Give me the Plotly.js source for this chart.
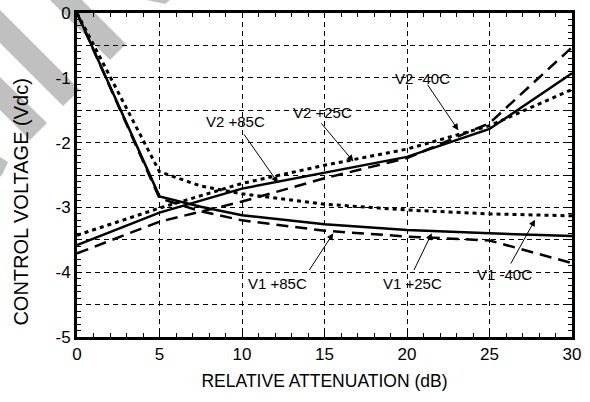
<!DOCTYPE html>
<html>
<head>
<meta charset="utf-8">
<script src="https://cdn.plot.ly/plotly-3.0.1.min.js"></script>
<style>html,body{margin:0;padding:0;background:#fff;}#chart{width:590px;height:402px;}</style>
</head>
<body>
<div id="chart"></div>
<script>
// ---- data ----
var attenV1 = [0, 5, 7.5, 10, 15, 20, 25, 30];
var v1Solid  = [0, -2.83, -2.99, -3.12, -3.26, -3.35, -3.40, -3.44];
var v1Dashed = [0, -2.86, -3.06, -3.20, -3.36, -3.45, -3.51, -3.86];
var v1Dotted = [0, -2.45, -2.67, -2.79, -2.95, -3.04, -3.10, -3.13];

var attenV2 = [0, 5, 10, 15, 20, 25, 30];
var v2Solid  = [-3.58, -3.08, -2.71, -2.46, -2.22, -1.79, -0.93];
var v2Dashed = [-3.71, -3.22, -2.91, -2.55, -2.24, -1.70, -0.53];
var v2Dotted = [-3.43, -3.01, -2.63, -2.35, -2.10, -1.74, -1.18];

// label texts and their positions (data units)
var labelTexts = ['V2 +85C', 'V2 +25C', 'V2 -40C', 'V1 +85C', 'V1 +25C', 'V1 -40C'];
var labelX = [9.58, 14.9, 20.94, 12.18, 20.33, 25.9];
var labelY = [-1.67, -1.53, -1.01, -4.17, -4.17, -4.04];
var arrowTailX = [10.06, 14.73, 21.19, 14.02, 20.38, 26.24];
var arrowTailY = [-1.85, -1.68, -1.085, -3.99, -3.99, -3.89];
var arrowTipX = [12.18, 16.75, 23.11, 15.53, 21.5, 27.76];
var arrowTipY = [-2.62, -2.29, -1.81, -3.40, -3.40, -3.19];

var xTickVals = [0, 5, 10, 15, 20, 25, 30];
var yGridVals = [0, -0.5, -1, -1.5, -2, -2.5, -3, -3.5, -4, -4.5, -5];
var yTickText = ['0', '', '-1', '', '-2', '', '-3', '', '-4', '', '-5'];

// ---- build ----
var FONT = 'Liberation Sans, Arial, Helvetica, sans-serif';
function line(x, y, dash, w) {
  return {x: x, y: y, type: 'scatter', mode: 'lines', showlegend: false, hoverinfo: 'skip',
          line: {color: '#000', width: w, dash: dash}};
}
var traces = [
  line(attenV1, v1Solid, 'solid', 2.5),
  line(attenV1, v1Dashed, '12px,7px', 2.5),
  line(attenV1, v1Dotted, '4px,4px', 3),
  line(attenV2, v2Solid, 'solid', 2.5),
  line(attenV2, v2Dashed, '12px,7px', 2.5),
  line(attenV2, v2Dotted, '4px,4px', 3)
];

var annotations = [];
for (var i = 0; i < labelTexts.length; i++) {
  annotations.push({x: arrowTipX[i], y: arrowTipY[i], xref: 'x', yref: 'y',
    ax: arrowTailX[i], ay: arrowTailY[i], axref: 'x', ayref: 'y', text: '',
    showarrow: true, arrowhead: 2, arrowsize: 1.3, arrowwidth: 1, arrowcolor: '#000', standoff: 0, startstandoff: 0});
  annotations.push({x: labelX[i], y: labelY[i], xref: 'x', yref: 'y', text: labelTexts[i],
    showarrow: false, bgcolor: 'rgba(0,0,0,0)', font: {family: FONT, size: 15, color: '#000'}});
}
annotations.push({xref: 'paper', yref: 'paper', x: -0.115, y: 0.415, xanchor: 'center', yanchor: 'middle',
  text: 'CONTROL VOLTAGE (Vdc)', textangle: -90, showarrow: false, font: {family: FONT, size: 20, color: '#000'}});

// decorative diagonal watermark stripes (pixel geometry -> paper)
var L = 77, R = 572, T = 13, B = 337;
function px(x) { return ((x - L) / (R - L)).toFixed(4); }
function py(y) { return ((B - y) / (B - T)).toFixed(4); }
function poly(pts) {
  var s = '';
  for (var k = 0; k < pts.length; k++) s += (k ? ' L' : 'M') + px(pts[k][0]) + ',' + py(pts[k][1]);
  return s + ' Z';
}
var stripes = [
  [[50, 0], [82, 0], [126, 44], [110, 60]],
  [[0, 10], [0, 43], [63, 106], [80, 90]],
  [[0, 77], [0, 110], [30, 140], [47, 123]],
  [[0, 157], [0, 177], [3, 173], [8, 162]],
  [[147, 0], [170, 0], [170, 0], [165, 4]]
];
var shapes = stripes.map(function (p) {
  return {type: 'path', xref: 'paper', yref: 'paper', path: poly(p), fillcolor: '#c0c0c0', line: {width: 0}, layer: 'below'};
});

var layout = {
  width: 590, height: 402,
  margin: {l: L, r: 590 - R, t: T, b: 402 - B},
  paper_bgcolor: '#fff', plot_bgcolor: 'rgba(0,0,0,0)',
  showlegend: false,
  font: {family: FONT, color: '#000'},
  xaxis: {
    range: [0, 30], tickvals: xTickVals, showgrid: true, gridcolor: '#000', gridwidth: 1, griddash: '5px,4px',
    zeroline: false, showline: true, linecolor: '#000', linewidth: 3, mirror: 'ticks',
    ticks: 'inside', ticklen: 5, tickcolor: '#000', tickwidth: 1,
    minor: {tickmode: 'linear', dtick: 1, tick0: 0, ticks: 'inside', ticklen: 4, tickcolor: '#000', tickwidth: 1, showgrid: false},
    tickfont: {family: FONT, size: 17, color: '#000'},
    title: {text: 'RELATIVE ATTENUATION (dB)', font: {family: FONT, size: 17.5, color: '#000'}, standoff: 12}
  },
  yaxis: {
    range: [-5, 0], tickmode: 'array', tickvals: yGridVals, ticktext: yTickText,
    showgrid: true, gridcolor: '#000', gridwidth: 1, griddash: '5px,4px',
    zeroline: false, showline: true, linecolor: '#000', linewidth: 3, mirror: 'ticks',
    ticks: 'inside', ticklen: 5, tickcolor: '#000', tickwidth: 1,
    minor: {tickmode: 'linear', dtick: 0.1, tick0: 0, ticks: 'inside', ticklen: 4, tickcolor: '#000', tickwidth: 1, showgrid: false},
    tickfont: {family: FONT, size: 17, color: '#000'}
  },
  annotations: annotations,
  shapes: shapes
};

Plotly.newPlot('chart', traces, layout, {staticPlot: true, displayModeBar: false});
</script>
</body>
</html>
